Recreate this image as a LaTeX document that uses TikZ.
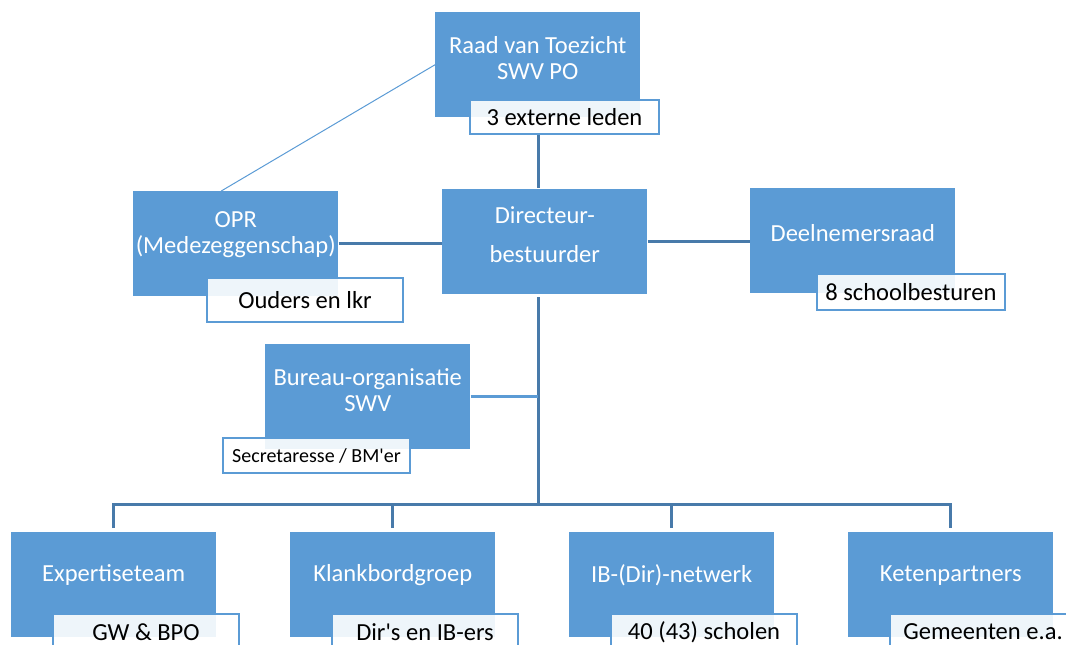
\documentclass[tikz,border=0pt]{standalone}
\usepackage{fontspec}
\setmainfont{Carlito}[Ligatures=TeXOff]
\usetikzlibrary{positioning}
\definecolor{boxblue}{RGB}{91,155,213}
\definecolor{linkblue}{RGB}{72,122,170}
\begin{document}
\begin{tikzpicture}[x=0.75pt, y=-0.75pt,
    orgbox/.style={rectangle, fill=boxblue, anchor=north west, inner sep=0pt,
        minimum width=153.75pt, minimum height=78.75pt},
    boxtext/.style={text=white, align=center, inner sep=0pt,
        font=\fontsize{18.4}{19.5}\selectfont},
    tagbox/.style={rectangle, draw=boxblue, line width=1.5pt, fill=white,
        fill opacity=0.9, text opacity=1, anchor=north west, inner sep=0pt,
        minimum width=141pt, minimum height=26.25pt,
        font=\fontsize{18.4}{19.5}\selectfont},
    link/.style={draw=linkblue, line width=2.25pt}]
    \useasboundingbox (0,0) rectangle (1066,644);
    \clip (0,0) rectangle (1066,644);

    % Top - Raad van Toezicht
    \node[orgbox] (raad) at (435,12) {};
    \node[boxtext] (raadtxt) at ([yshift=4.9pt]raad.center) {Raad van Toezicht\\SWV PO};
    \node[tagbox, minimum width=141.75pt, minimum height=25.5pt] (raadtag) at (469,99) {3 externe leden};

    % Middle row
    \node[orgbox] (opr) at (133,191) {};
    \node[boxtext] (oprtxt) at ([yshift=6.75pt]opr.center) {OPR\\(Medezeggenschap)};
    \node[tagbox, minimum width=147pt, minimum height=33pt] (oprtag) at (206,277) {Ouders en lkr};

    \node[orgbox] (dir) at (442,189) {};
    \node[boxtext, font=\fontsize{18.4}{29}\selectfont] (dirtxt) at ([yshift=5.25pt]dir.center) {Directeur-\\bestuurder};

    \node[orgbox] (deel) at (750,188) {};
    \node[boxtext] (deeltxt) at ([yshift=5.6pt]deel.center) {Deelnemersraad};
    \node[tagbox, minimum height=27pt] (deeltag) at (816,273) {8 schoolbesturen};

    % Bureau
    \node[orgbox] (bur) at (265,344) {};
    \node[boxtext] (burtxt) at ([yshift=5.25pt]bur.center) {Bureau-organisatie\\SWV};
    \node[tagbox, minimum width=140.25pt, font=\fontsize{15}{17}\selectfont] (burtag) at (222,437) {Secretaresse / BM'er};

    % Bottom row
    \foreach \n/\x/\t/\s in {exp/11/Expertiseteam/GW \& BPO,
                             klank/290/Klankbordgroep/Dir's en IB-ers,
                             ib/569/IB-(Dir)-netwerk/40 (43) scholen,
                             keten/848/Ketenpartners/Gemeenten e.a.} {
        \node[orgbox] (\n) at (\x,532) {};
        \node[boxtext] (\n txt) at ([yshift=7pt]\n.center) {\t};
        \node[tagbox, minimum width=139.5pt, minimum height=27pt] (\n tag) at (\x+41,613) {\s};
    }

    % Connectors
    \coordinate (axis) at (538,300);
    \coordinate (bus) at (538,504);
    \draw[draw=boxblue, line width=0.75pt] (raad.west) -- ([xshift=-10.9pt]opr.north);
    \draw[link] (raadtag.south -| axis) -- ([yshift=0.75pt]dir.north -| axis);
    \draw[link] (opr.east) -- (opr.east -| dir.west);
    \draw[link] (dir.east) -- (dir.east -| deel.west);
    \draw[link] ([yshift=-2pt]dir.south -| axis) -- (bus);
    \draw[link, draw=boxblue] (bur.east) -- (bur.east -| axis);
    \draw[link, line join=miter] ([yshift=3pt]exp.north) -- (exp.north |- bus)
        -- (keten.north |- bus) -- ([yshift=3pt]keten.north);
    \foreach \n in {klank, ib} {
        \draw[link] (\n.north |- bus) -- ([yshift=3pt]\n.north);
    }
\end{tikzpicture}
\end{document}
